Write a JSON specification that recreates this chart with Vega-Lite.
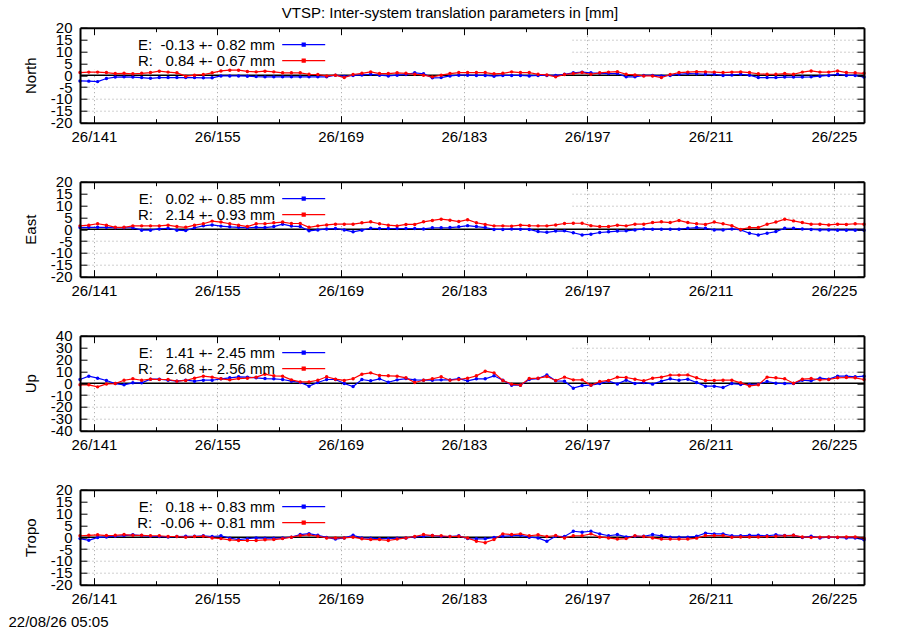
{
"$schema": "https://vega.github.io/schema/vega-lite/v6.json",
"background": "white",
"padding": {"left": 8, "top": 5.7, "right": 0, "bottom": 0},
"autosize": {"type": "pad"},
"title": {"text": "VTSP: Inter-system translation parameters in [mm]", "anchor": "middle", "frame": "group", "dx": -22, "offset": 0, "font": "Liberation Sans", "fontSize": 15, "fontWeight": "normal", "color": "black"},
"config": {
  "view": {"stroke": null},
  "axis": {"domainColor": "black", "domainWidth": 2, "tickColor": "black", "tickWidth": 1, "labelFont": "Liberation Sans", "labelFontSize": 15, "labelColor": "black", "labelFlush": false, "labelOverlap": false, "titleFont": "Liberation Sans", "titleFontSize": 15, "titleFontWeight": "normal", "titleColor": "black"},
  "legend": {"labelFont": "Liberation Sans", "labelFontSize": 15, "labelColor": "black"}
},
"datasets": {"d": [
{"d":139.42,"nE":-2.4,"nR":1.1,"eE":0.7,"eR":1.4,"uE":3.1,"uR":-1.4,"tE":-0.6,"tR":0.6},
{"d":140.42,"nE":-2.5,"nR":1.3,"eE":0.8,"eR":1.7,"uE":5.9,"uR":-1.4,"tE":-1.3,"tR":0.8},
{"d":141.42,"nE":-2.7,"nR":1.3,"eE":0.8,"eR":2.3,"uE":4.2,"uR":-3.1,"tE":-0.1,"tR":1.0},
{"d":142.42,"nE":-1.4,"nR":1.1,"eE":0.8,"eR":1.7,"uE":2.3,"uR":-0.6,"tE":0.1,"tR":0.7},
{"d":143.42,"nE":-0.8,"nR":0.7,"eE":0.6,"eR":0.8,"uE":-0.3,"uR":-0.3,"tE":0.4,"tR":0.8},
{"d":144.42,"nE":-0.7,"nR":0.8,"eE":0.6,"eR":0.8,"uE":-1.4,"uR":2.5,"tE":0.7,"tR":1.1},
{"d":145.42,"nE":-0.8,"nR":0.6,"eE":0.6,"eR":1.4,"uE":0.3,"uR":3.7,"tE":1.0,"tR":0.8},
{"d":146.42,"nE":-1.0,"nR":0.8,"eE":-0.4,"eR":1.4,"uE":0.3,"uR":2.5,"tE":0.7,"tR":0.8},
{"d":147.42,"nE":-1.3,"nR":1.1,"eE":-0.4,"eR":1.4,"uE":3.4,"uR":3.4,"tE":0.4,"tR":0.6},
{"d":148.42,"nE":-1.0,"nR":1.7,"eE":0.1,"eR":1.4,"uE":3.4,"uR":3.1,"tE":0.3,"tR":0.6},
{"d":149.42,"nE":-1.0,"nR":1.3,"eE":0.4,"eR":1.7,"uE":2.5,"uR":3.1,"tE":0.1,"tR":0.3},
{"d":150.42,"nE":-1.0,"nR":1.0,"eE":-0.4,"eR":1.1,"uE":1.7,"uR":1.7,"tE":0.3,"tR":0.3},
{"d":151.42,"nE":-1.0,"nR":-0.4,"eE":-0.6,"eR":0.8,"uE":2.5,"uR":2.3,"tE":0.4,"tR":0},
{"d":152.42,"nE":-1.0,"nR":0,"eE":0.6,"eR":1.7,"uE":1.7,"uR":4.2,"tE":0.4,"tR":0.3},
{"d":153.42,"nE":-1.1,"nR":0.3,"eE":1.4,"eR":2.3,"uE":2.5,"uR":5.9,"tE":0.6,"tR":0.4},
{"d":154.42,"nE":-1.1,"nR":1.0,"eE":1.8,"eR":3.4,"uE":2.5,"uR":5.1,"tE":0.3,"tR":-0.3},
{"d":155.42,"nE":-0.3,"nR":1.8,"eE":1.3,"eR":3.0,"uE":3.7,"uR":3.7,"tE":0.6,"tR":-0.6},
{"d":156.42,"nE":-0.3,"nR":2.1,"eE":1.0,"eR":2.3,"uE":4.5,"uR":2.8,"tE":-0.4,"tR":-1.1},
{"d":157.42,"nE":-0.3,"nR":2.1,"eE":0.8,"eR":1.7,"uE":5.4,"uR":3.9,"tE":-1.0,"tR":-1.4},
{"d":158.42,"nE":-0.4,"nR":1.6,"eE":0.6,"eR":1.1,"uE":5.1,"uR":4.2,"tE":-0.6,"tR":-1.4},
{"d":159.42,"nE":-0.6,"nR":1.4,"eE":0.8,"eR":2.3,"uE":4.5,"uR":5.1,"tE":-0.3,"tR":-1.4},
{"d":160.42,"nE":-0.7,"nR":1.7,"eE":0.7,"eR":2.3,"uE":3.9,"uR":7.6,"tE":-0.4,"tR":-1.1},
{"d":161.42,"nE":-0.7,"nR":1.4,"eE":1.1,"eR":2.7,"uE":3.7,"uR":6.2,"tE":-0.4,"tR":-1.0},
{"d":162.42,"nE":-0.7,"nR":1.0,"eE":2.1,"eR":3.0,"uE":3.1,"uR":5.9,"tE":-0.3,"tR":-0.6},
{"d":163.42,"nE":-0.7,"nR":1.0,"eE":1.3,"eR":2.4,"uE":1.7,"uR":2.8,"tE":0,"tR":0},
{"d":164.42,"nE":-0.7,"nR":1.0,"eE":1.1,"eR":2.4,"uE":0.6,"uR":1.1,"tE":1.1,"tR":0.7},
{"d":165.42,"nE":-0.7,"nR":0.4,"eE":-0.7,"eR":0.8,"uE":-2.5,"uR":1.1,"tE":1.5,"tR":1.0},
{"d":166.42,"nE":-0.7,"nR":0.3,"eE":-0.3,"eR":1.4,"uE":0.6,"uR":2.5,"tE":0.8,"tR":0.4},
{"d":167.42,"nE":-0.7,"nR":-0.3,"eE":0.1,"eR":1.8,"uE":3.1,"uR":5.4,"tE":-0.1,"tR":-0.3},
{"d":168.42,"nE":0,"nR":0,"eE":0.3,"eR":2.1,"uE":3.1,"uR":3.4,"tE":-0.8,"tR":-0.3},
{"d":169.42,"nE":-0.5,"nR":-1.0,"eE":-0.3,"eR":2.1,"uE":-0.3,"uR":2.3,"tE":-0.3,"tR":-0.3},
{"d":170.42,"nE":-0.1,"nR":0.3,"eE":-1.1,"eR":2.1,"uE":-2.8,"uR":3.7,"tE":0.8,"tR":0},
{"d":171.42,"nE":0.1,"nR":0.8,"eE":-0.4,"eR":2.7,"uE":3.1,"uR":7.6,"tE":-0.3,"tR":-0.7},
{"d":172.42,"nE":0.4,"nR":1.4,"eE":0.4,"eR":3.1,"uE":2.0,"uR":8.7,"tE":-0.4,"tR":-1.0},
{"d":173.42,"nE":0,"nR":0.7,"eE":0.3,"eR":2.3,"uE":3.7,"uR":6.5,"tE":-0.6,"tR":-1.0},
{"d":174.42,"nE":-0.3,"nR":0.7,"eE":0.3,"eR":1.7,"uE":0.8,"uR":6.2,"tE":-0.6,"tR":-1.4},
{"d":175.42,"nE":0,"nR":1.0,"eE":0.3,"eR":1.4,"uE":2.8,"uR":5.9,"tE":-0.4,"tR":-0.8},
{"d":176.42,"nE":0.3,"nR":0.8,"eE":0.3,"eR":2.0,"uE":3.9,"uR":4.5,"tE":-0.3,"tR":-0.3},
{"d":177.42,"nE":1.0,"nR":0.4,"eE":0.3,"eR":2.0,"uE":2.8,"uR":0.6,"tE":0.1,"tR":0.3},
{"d":178.42,"nE":0.6,"nR":0,"eE":0.1,"eR":3.1,"uE":2.5,"uR":2.5,"tE":0.4,"tR":1.1},
{"d":179.42,"nE":-1.1,"nR":-0.7,"eE":0.6,"eR":3.7,"uE":2.5,"uR":3.7,"tE":0.7,"tR":0.7},
{"d":180.42,"nE":-1.0,"nR":0,"eE":0.6,"eR":4.2,"uE":2.8,"uR":5.4,"tE":0.3,"tR":0.6},
{"d":181.42,"nE":-0.3,"nR":0.7,"eE":0.7,"eR":3.8,"uE":2.8,"uR":2.5,"tE":0.3,"tR":0.3},
{"d":182.42,"nE":0,"nR":1.1,"eE":1.0,"eR":3.2,"uE":3.9,"uR":3.1,"tE":0.6,"tR":0.4},
{"d":183.42,"nE":0,"nR":1.1,"eE":1.5,"eR":4.0,"uE":2.0,"uR":4.2,"tE":-0.6,"tR":-0.3},
{"d":184.42,"nE":-0.1,"nR":1.1,"eE":1.1,"eR":2.7,"uE":3.7,"uR":6.2,"tE":-0.7,"tR":-1.7},
{"d":185.42,"nE":-0.1,"nR":1.1,"eE":0.7,"eR":2.0,"uE":3.7,"uR":10.1,"tE":-0.7,"tR":-2.3},
{"d":186.42,"nE":-0.4,"nR":0.6,"eE":-0.1,"eR":1.4,"uE":6.2,"uR":8.7,"tE":-0.1,"tR":-1.0},
{"d":187.42,"nE":-0.1,"nR":0.8,"eE":-0.1,"eR":1.4,"uE":2.5,"uR":2.3,"tE":0.4,"tR":1.4},
{"d":188.42,"nE":-0.1,"nR":1.4,"eE":0.1,"eR":1.3,"uE":-1.7,"uR":-0.8,"tE":0.6,"tR":1.1},
{"d":189.42,"nE":-0.1,"nR":1.1,"eE":0,"eR":1.7,"uE":-1.7,"uR":-1.7,"tE":0.8,"tR":1.4},
{"d":190.42,"nE":-0.3,"nR":1.1,"eE":-0.1,"eR":1.5,"uE":3.1,"uR":3.9,"tE":0,"tR":0.6},
{"d":191.42,"nE":-0.1,"nR":0.4,"eE":-1.0,"eR":1.4,"uE":3.9,"uR":4.2,"tE":-0.3,"tR":1.0},
{"d":192.42,"nE":-0.1,"nR":0.1,"eE":-1.3,"eR":1.4,"uE":7.0,"uR":5.6,"tE":-1.7,"tR":0.3},
{"d":193.42,"nE":-0.1,"nR":-0.7,"eE":-0.8,"eR":1.8,"uE":2.0,"uR":2.3,"tE":0.4,"tR":0.7},
{"d":194.42,"nE":0.4,"nR":0.3,"eE":-0.7,"eR":2.4,"uE":1.7,"uR":5.1,"tE":0.3,"tR":-0.3},
{"d":195.42,"nE":1.0,"nR":0.7,"eE":-1.5,"eR":2.5,"uE":-4.2,"uR":2.8,"tE":2.5,"tR":0.6},
{"d":196.42,"nE":1.3,"nR":1.1,"eE":-2.4,"eR":2.5,"uE":-2.0,"uR":2.8,"tE":2.1,"tR":0.6},
{"d":197.42,"nE":1.0,"nR":0.4,"eE":-2.1,"eR":1.5,"uE":-1.7,"uR":-1.7,"tE":2.5,"tR":1.4},
{"d":198.42,"nE":0.8,"nR":1.0,"eE":-1.4,"eR":1.1,"uE":-0.3,"uR":1.4,"tE":1.4,"tR":0.1},
{"d":199.42,"nE":0.7,"nR":1.3,"eE":-1.1,"eR":1.1,"uE":1.7,"uR":2.3,"tE":0.6,"tR":-0.3},
{"d":200.42,"nE":0.7,"nR":1.5,"eE":-0.8,"eR":1.7,"uE":-0.6,"uR":5.1,"tE":1.1,"tR":-0.8},
{"d":201.42,"nE":-0.7,"nR":0.4,"eE":-0.7,"eR":1.4,"uE":2.5,"uR":4.8,"tE":0.1,"tR":-0.6},
{"d":202.42,"nE":-0.7,"nR":0.1,"eE":-0.3,"eR":2.1,"uE":-0.3,"uR":3.4,"tE":0.4,"tR":0.6},
{"d":203.42,"nE":-0.1,"nR":-0.3,"eE":0.1,"eR":2.1,"uE":0.6,"uR":2.0,"tE":0.4,"tR":0.3},
{"d":204.42,"nE":-0.1,"nR":-0.3,"eE":0,"eR":2.8,"uE":-0.8,"uR":4.2,"tE":1.1,"tR":-0.3},
{"d":205.42,"nE":-0.3,"nR":-1.0,"eE":0,"eR":3.1,"uE":1.7,"uR":5.1,"tE":0.6,"tR":-0.8},
{"d":206.42,"nE":-0.1,"nR":0.3,"eE":0,"eR":2.8,"uE":3.7,"uR":6.8,"tE":0,"tR":-0.8},
{"d":207.42,"nE":0.4,"nR":1.1,"eE":0,"eR":3.7,"uE":2.5,"uR":6.8,"tE":0,"tR":-0.8},
{"d":208.42,"nE":0.7,"nR":1.3,"eE":0.4,"eR":2.8,"uE":3.4,"uR":7.0,"tE":0,"tR":-0.8},
{"d":209.42,"nE":0.6,"nR":1.5,"eE":0.7,"eR":2.3,"uE":0.6,"uR":4.5,"tE":0.4,"tR":-0.4},
{"d":210.42,"nE":0.4,"nR":1.4,"eE":0.4,"eR":2.0,"uE":-2.5,"uR":2.3,"tE":1.7,"tR":0.7},
{"d":211.42,"nE":0.4,"nR":1.3,"eE":-0.3,"eR":3.0,"uE":-2.5,"uR":2.3,"tE":1.4,"tR":0.7},
{"d":212.42,"nE":-0.1,"nR":1.1,"eE":-0.3,"eR":2.3,"uE":-3.7,"uR":2.5,"tE":1.4,"tR":0.7},
{"d":213.42,"nE":0.1,"nR":1.3,"eE":0.1,"eR":1.5,"uE":-0.3,"uR":2.5,"tE":0.6,"tR":0},
{"d":214.42,"nE":0.4,"nR":1.4,"eE":-0.3,"eR":-0.1,"uE":-1.1,"uR":0.3,"tE":0.6,"tR":0.1},
{"d":215.42,"nE":0,"nR":1.1,"eE":-1.7,"eR":0.7,"uE":-1.1,"uR":-2.3,"tE":0.8,"tR":0.1},
{"d":216.42,"nE":-1.0,"nR":0.6,"eE":-2.4,"eR":0.7,"uE":-0.8,"uR":-1.4,"tE":0.8,"tR":0.1},
{"d":217.42,"nE":-1.0,"nR":0.4,"eE":-1.7,"eR":2.1,"uE":1.4,"uR":5.1,"tE":0.6,"tR":0.3},
{"d":218.42,"nE":-1.0,"nR":0.4,"eE":-1.0,"eR":3.0,"uE":0,"uR":4.5,"tE":1.0,"tR":0.4},
{"d":219.42,"nE":-0.8,"nR":0.7,"eE":0.4,"eR":4.2,"uE":-0.3,"uR":3.7,"tE":0.7,"tR":0.6},
{"d":220.42,"nE":-0.8,"nR":0.4,"eE":0.4,"eR":3.5,"uE":-0.3,"uR":0,"tE":0.8,"tR":0.8},
{"d":221.42,"nE":-0.8,"nR":1.3,"eE":0.1,"eR":2.8,"uE":2.5,"uR":3.4,"tE":-0.1,"tR":0.1},
{"d":222.42,"nE":-0.7,"nR":1.8,"eE":-0.1,"eR":2.1,"uE":2.0,"uR":3.9,"tE":0.4,"tR":-0.1},
{"d":223.42,"nE":-0.4,"nR":1.3,"eE":-0.3,"eR":2.1,"uE":4.2,"uR":2.8,"tE":-0.3,"tR":0},
{"d":224.42,"nE":-0.1,"nR":1.3,"eE":-0.3,"eR":1.8,"uE":3.4,"uR":3.1,"tE":0,"tR":0.1},
{"d":225.42,"nE":0.4,"nR":1.8,"eE":-0.4,"eR":2.1,"uE":5.9,"uR":4.5,"tE":-0.1,"tR":0},
{"d":226.42,"nE":-0.1,"nR":1.1,"eE":-0.4,"eR":2.0,"uE":5.9,"uR":4.8,"tE":-0.3,"tR":0.1},
{"d":227.42,"nE":-0.1,"nR":1.0,"eE":-0.4,"eR":2.3,"uE":5.4,"uR":4.5,"tE":-0.3,"tR":0.1},
{"d":228.42,"nE":-0.8,"nR":0.8,"eE":-0.4,"eR":2.1,"uE":5.9,"uR":3.1,"tE":-1.1,"tR":-0.4}
]},
"vconcat": [
{
 "width": 784, "height": 95,
 "layer": [
  {"data": {"values": [{"x1": 139.42, "x2": 195.3, "y1": 2.5, "y2": 20}]},
   "mark": {"type": "rect", "color": "white", "strokeWidth": 0},
   "encoding": {
    "x": {"field": "x1", "type": "quantitative", "scale": {"domain": [139.42, 228.42], "nice": false, "zero": false}, "axis": {"orient": "bottom", "values": [141,155,169,183,197,211,225], "grid": true, "gridColor": "#a0a0a0", "gridDash": [1,3], "gridWidth": 1, "domain": false, "ticks": false, "labels": false, "title": null, "zindex": 0}},
    "x2": {"field": "x2"},
    "y": {"field": "y1", "type": "quantitative", "scale": {"domain": [-20, 20], "nice": false, "zero": false}, "axis": {"orient": "left", "values": [-15,-10,-5,5,10,15], "grid": true, "gridColor": "#a0a0a0", "gridDash": [1,3], "gridWidth": 1, "domain": false, "ticks": false, "labels": false, "title": null, "zindex": 0}},
    "y2": {"field": "y2"}
   }},
  {"data": {"values": [{"z": 0}]},
   "mark": {"type": "rule", "color": "black", "strokeWidth": 1.5},
   "encoding": {"y": {"field": "z", "type": "quantitative", "scale": {"domain": [-20, 20], "nice": false, "zero": false}, "axis": null}}},
  {"data": {"name": "d"},
   "transform": [{"fold": ["nE", "nR"], "as": ["key", "v"]}],
   "mark": {"type": "line", "strokeWidth": 1.2},
   "encoding": {
    "x": {"field": "d", "type": "quantitative", "scale": {"domain": [139.42, 228.42], "nice": false, "zero": false}, "axis": {"orient": "bottom", "values": [141,148,155,162,169,176,183,190,197,204,211,218,225], "grid": false, "tickSize": {"condition": {"test": "(datum.value - 141) % 14 == 0", "value": -7}, "value": -4}, "labelExpr": "(datum.value - 141) % 14 == 0 ? '26/' + datum.value : ''", "labelPadding": 13.5, "title": null, "zindex": 1}},
    "y": {"field": "v", "type": "quantitative", "scale": {"domain": [-20, 20], "nice": false, "zero": false}, "axis": {"orient": "left", "values": [-20,-15,-10,-5,0,5,10,15,20], "grid": false, "tickSize": -7, "labelPadding": 15, "labelExpr": "'' + datum.value", "title": "North", "titlePadding": 12, "zindex": 1}},
    "color": {"field": "key", "type": "nominal", "scale": {"domain": ["nE", "nR"], "range": ["#0000ff", "#ff0000"]},
     "legend": {"orient": "none", "legendX": 216.2, "legendY": 9.4, "title": null, "padding": 0, "rowPadding": -1.4, "symbolType": "M-4.3,0H4.3M-0.3,-0.3H0.3V0.3H-0.3Z", "symbolSize": 100, "symbolStrokeWidth": 1.2, "labelAlign": "right", "labelOffset": -36.2, "labelLimit": 400, "labelExpr": "datum.value == 'nE' ? 'E:\u00a0\u00a0-0.13 +- 0.82 mm' : 'R:\u00a0\u00a0\u00a00.84 +- 0.67 mm'"}}
   }},
  {"data": {"name": "d"},
   "transform": [{"fold": ["nE", "nR"], "as": ["key", "v"]}],
   "mark": {"type": "circle", "size": 12, "opacity": 1},
   "encoding": {
    "x": {"field": "d", "type": "quantitative", "scale": {"domain": [139.42, 228.42], "nice": false, "zero": false}, "axis": {"orient": "top", "values": [141,148,155,162,169,176,183,190,197,204,211,218,225], "grid": false, "tickSize": {"condition": {"test": "(datum.value - 141) % 14 == 0", "value": -7}, "value": -4}, "labels": false, "title": null, "zindex": 1}},
    "y": {"field": "v", "type": "quantitative", "scale": {"domain": [-20, 20], "nice": false, "zero": false}, "axis": {"orient": "right", "values": [-20,-15,-10,-5,0,5,10,15,20], "grid": false, "tickSize": -7, "labels": false, "title": null, "zindex": 1}},
    "color": {"field": "key", "type": "nominal", "legend": null}
   }}
 ],
 "resolve": {"axis": {"x": "independent", "y": "independent"}}
},
{
 "width": 784, "height": 95,
 "layer": [
  {"data": {"values": [{"x1": 139.42, "x2": 195.3, "y1": 2.5, "y2": 20}]},
   "mark": {"type": "rect", "color": "white", "strokeWidth": 0},
   "encoding": {
    "x": {"field": "x1", "type": "quantitative", "scale": {"domain": [139.42, 228.42], "nice": false, "zero": false}, "axis": {"orient": "bottom", "values": [141,155,169,183,197,211,225], "grid": true, "gridColor": "#a0a0a0", "gridDash": [1,3], "gridWidth": 1, "domain": false, "ticks": false, "labels": false, "title": null, "zindex": 0}},
    "x2": {"field": "x2"},
    "y": {"field": "y1", "type": "quantitative", "scale": {"domain": [-20, 20], "nice": false, "zero": false}, "axis": {"orient": "left", "values": [-15,-10,-5,5,10,15], "grid": true, "gridColor": "#a0a0a0", "gridDash": [1,3], "gridWidth": 1, "domain": false, "ticks": false, "labels": false, "title": null, "zindex": 0}},
    "y2": {"field": "y2"}
   }},
  {"data": {"values": [{"z": 0}]},
   "mark": {"type": "rule", "color": "black", "strokeWidth": 1.5},
   "encoding": {"y": {"field": "z", "type": "quantitative", "scale": {"domain": [-20, 20], "nice": false, "zero": false}, "axis": null}}},
  {"data": {"name": "d"},
   "transform": [{"fold": ["eE", "eR"], "as": ["key", "v"]}],
   "mark": {"type": "line", "strokeWidth": 1.2},
   "encoding": {
    "x": {"field": "d", "type": "quantitative", "scale": {"domain": [139.42, 228.42], "nice": false, "zero": false}, "axis": {"orient": "bottom", "values": [141,148,155,162,169,176,183,190,197,204,211,218,225], "grid": false, "tickSize": {"condition": {"test": "(datum.value - 141) % 14 == 0", "value": -7}, "value": -4}, "labelExpr": "(datum.value - 141) % 14 == 0 ? '26/' + datum.value : ''", "labelPadding": 13.5, "title": null, "zindex": 1}},
    "y": {"field": "v", "type": "quantitative", "scale": {"domain": [-20, 20], "nice": false, "zero": false}, "axis": {"orient": "left", "values": [-20,-15,-10,-5,0,5,10,15,20], "grid": false, "tickSize": -7, "labelPadding": 15, "labelExpr": "'' + datum.value", "title": "East", "titlePadding": 12, "zindex": 1}},
    "color": {"field": "key", "type": "nominal", "scale": {"domain": ["eE", "eR"], "range": ["#0000ff", "#ff0000"]},
     "legend": {"orient": "none", "legendX": 216.2, "legendY": 9.4, "title": null, "padding": 0, "rowPadding": -1.4, "symbolType": "M-4.3,0H4.3M-0.3,-0.3H0.3V0.3H-0.3Z", "symbolSize": 100, "symbolStrokeWidth": 1.2, "labelAlign": "right", "labelOffset": -36.2, "labelLimit": 400, "labelExpr": "datum.value == 'eE' ? 'E:\u00a0\u00a0\u00a00.02 +- 0.85 mm' : 'R:\u00a0\u00a0\u00a02.14 +- 0.93 mm'"}}
   }},
  {"data": {"name": "d"},
   "transform": [{"fold": ["eE", "eR"], "as": ["key", "v"]}],
   "mark": {"type": "circle", "size": 12, "opacity": 1},
   "encoding": {
    "x": {"field": "d", "type": "quantitative", "scale": {"domain": [139.42, 228.42], "nice": false, "zero": false}, "axis": {"orient": "top", "values": [141,148,155,162,169,176,183,190,197,204,211,218,225], "grid": false, "tickSize": {"condition": {"test": "(datum.value - 141) % 14 == 0", "value": -7}, "value": -4}, "labels": false, "title": null, "zindex": 1}},
    "y": {"field": "v", "type": "quantitative", "scale": {"domain": [-20, 20], "nice": false, "zero": false}, "axis": {"orient": "right", "values": [-20,-15,-10,-5,0,5,10,15,20], "grid": false, "tickSize": -7, "labels": false, "title": null, "zindex": 1}},
    "color": {"field": "key", "type": "nominal", "legend": null}
   }}
 ],
 "resolve": {"axis": {"x": "independent", "y": "independent"}}
},
{
 "width": 784, "height": 95,
 "layer": [
  {"data": {"values": [{"x1": 139.42, "x2": 195.3, "y1": 5, "y2": 40}]},
   "mark": {"type": "rect", "color": "white", "strokeWidth": 0},
   "encoding": {
    "x": {"field": "x1", "type": "quantitative", "scale": {"domain": [139.42, 228.42], "nice": false, "zero": false}, "axis": {"orient": "bottom", "values": [141,155,169,183,197,211,225], "grid": true, "gridColor": "#a0a0a0", "gridDash": [1,3], "gridWidth": 1, "domain": false, "ticks": false, "labels": false, "title": null, "zindex": 0}},
    "x2": {"field": "x2"},
    "y": {"field": "y1", "type": "quantitative", "scale": {"domain": [-40, 40], "nice": false, "zero": false}, "axis": {"orient": "left", "values": [-30,-20,-10,10,20,30], "grid": true, "gridColor": "#a0a0a0", "gridDash": [1,3], "gridWidth": 1, "domain": false, "ticks": false, "labels": false, "title": null, "zindex": 0}},
    "y2": {"field": "y2"}
   }},
  {"data": {"values": [{"z": 0}]},
   "mark": {"type": "rule", "color": "black", "strokeWidth": 1.5},
   "encoding": {"y": {"field": "z", "type": "quantitative", "scale": {"domain": [-40, 40], "nice": false, "zero": false}, "axis": null}}},
  {"data": {"name": "d"},
   "transform": [{"fold": ["uE", "uR"], "as": ["key", "v"]}],
   "mark": {"type": "line", "strokeWidth": 1.2},
   "encoding": {
    "x": {"field": "d", "type": "quantitative", "scale": {"domain": [139.42, 228.42], "nice": false, "zero": false}, "axis": {"orient": "bottom", "values": [141,148,155,162,169,176,183,190,197,204,211,218,225], "grid": false, "tickSize": {"condition": {"test": "(datum.value - 141) % 14 == 0", "value": -7}, "value": -4}, "labelExpr": "(datum.value - 141) % 14 == 0 ? '26/' + datum.value : ''", "labelPadding": 13.5, "title": null, "zindex": 1}},
    "y": {"field": "v", "type": "quantitative", "scale": {"domain": [-40, 40], "nice": false, "zero": false}, "axis": {"orient": "left", "values": [-40,-30,-20,-10,0,10,20,30,40], "grid": false, "tickSize": -7, "labelPadding": 15, "labelExpr": "'' + datum.value", "title": "Up", "titlePadding": 12, "zindex": 1}},
    "color": {"field": "key", "type": "nominal", "scale": {"domain": ["uE", "uR"], "range": ["#0000ff", "#ff0000"]},
     "legend": {"orient": "none", "legendX": 216.2, "legendY": 9.4, "title": null, "padding": 0, "rowPadding": -1.4, "symbolType": "M-4.3,0H4.3M-0.3,-0.3H0.3V0.3H-0.3Z", "symbolSize": 100, "symbolStrokeWidth": 1.2, "labelAlign": "right", "labelOffset": -36.2, "labelLimit": 400, "labelExpr": "datum.value == 'uE' ? 'E:\u00a0\u00a0\u00a01.41 +- 2.45 mm' : 'R:\u00a0\u00a0\u00a02.68 +- 2.56 mm'"}}
   }},
  {"data": {"name": "d"},
   "transform": [{"fold": ["uE", "uR"], "as": ["key", "v"]}],
   "mark": {"type": "circle", "size": 12, "opacity": 1},
   "encoding": {
    "x": {"field": "d", "type": "quantitative", "scale": {"domain": [139.42, 228.42], "nice": false, "zero": false}, "axis": {"orient": "top", "values": [141,148,155,162,169,176,183,190,197,204,211,218,225], "grid": false, "tickSize": {"condition": {"test": "(datum.value - 141) % 14 == 0", "value": -7}, "value": -4}, "labels": false, "title": null, "zindex": 1}},
    "y": {"field": "v", "type": "quantitative", "scale": {"domain": [-40, 40], "nice": false, "zero": false}, "axis": {"orient": "right", "values": [-40,-30,-20,-10,0,10,20,30,40], "grid": false, "tickSize": -7, "labels": false, "title": null, "zindex": 1}},
    "color": {"field": "key", "type": "nominal", "legend": null}
   }}
 ],
 "resolve": {"axis": {"x": "independent", "y": "independent"}}
},
{
 "width": 784, "height": 95,
 "layer": [
  {"data": {"values": [{"x1": 139.42, "x2": 195.3, "y1": 2.5, "y2": 20}]},
   "mark": {"type": "rect", "color": "white", "strokeWidth": 0},
   "encoding": {
    "x": {"field": "x1", "type": "quantitative", "scale": {"domain": [139.42, 228.42], "nice": false, "zero": false}, "axis": {"orient": "bottom", "values": [141,155,169,183,197,211,225], "grid": true, "gridColor": "#a0a0a0", "gridDash": [1,3], "gridWidth": 1, "domain": false, "ticks": false, "labels": false, "title": null, "zindex": 0}},
    "x2": {"field": "x2"},
    "y": {"field": "y1", "type": "quantitative", "scale": {"domain": [-20, 20], "nice": false, "zero": false}, "axis": {"orient": "left", "values": [-15,-10,-5,5,10,15], "grid": true, "gridColor": "#a0a0a0", "gridDash": [1,3], "gridWidth": 1, "domain": false, "ticks": false, "labels": false, "title": null, "zindex": 0}},
    "y2": {"field": "y2"}
   }},
  {"data": {"values": [{"z": 0}]},
   "mark": {"type": "rule", "color": "black", "strokeWidth": 1.5},
   "encoding": {"y": {"field": "z", "type": "quantitative", "scale": {"domain": [-20, 20], "nice": false, "zero": false}, "axis": null}}},
  {"data": {"name": "d"},
   "transform": [{"fold": ["tE", "tR"], "as": ["key", "v"]}],
   "mark": {"type": "line", "strokeWidth": 1.2},
   "encoding": {
    "x": {"field": "d", "type": "quantitative", "scale": {"domain": [139.42, 228.42], "nice": false, "zero": false}, "axis": {"orient": "bottom", "values": [141,148,155,162,169,176,183,190,197,204,211,218,225], "grid": false, "tickSize": {"condition": {"test": "(datum.value - 141) % 14 == 0", "value": -7}, "value": -4}, "labelExpr": "(datum.value - 141) % 14 == 0 ? '26/' + datum.value : ''", "labelPadding": 13.5, "title": "22/08/26 05:05", "titleX": -72, "titleY": 37, "titleAlign": "left", "titleBaseline": "middle", "titleAngle": 0, "titleFontSize": 15, "zindex": 1}},
    "y": {"field": "v", "type": "quantitative", "scale": {"domain": [-20, 20], "nice": false, "zero": false}, "axis": {"orient": "left", "values": [-20,-15,-10,-5,0,5,10,15,20], "grid": false, "tickSize": -7, "labelPadding": 15, "labelExpr": "'' + datum.value", "title": "Tropo", "titlePadding": 12, "zindex": 1}},
    "color": {"field": "key", "type": "nominal", "scale": {"domain": ["tE", "tR"], "range": ["#0000ff", "#ff0000"]},
     "legend": {"orient": "none", "legendX": 216.2, "legendY": 9.4, "title": null, "padding": 0, "rowPadding": -1.4, "symbolType": "M-4.3,0H4.3M-0.3,-0.3H0.3V0.3H-0.3Z", "symbolSize": 100, "symbolStrokeWidth": 1.2, "labelAlign": "right", "labelOffset": -36.2, "labelLimit": 400, "labelExpr": "datum.value == 'tE' ? 'E:\u00a0\u00a0\u00a00.18 +- 0.83 mm' : 'R:\u00a0\u00a0-0.06 +- 0.81 mm'"}}
   }},
  {"data": {"name": "d"},
   "transform": [{"fold": ["tE", "tR"], "as": ["key", "v"]}],
   "mark": {"type": "circle", "size": 12, "opacity": 1},
   "encoding": {
    "x": {"field": "d", "type": "quantitative", "scale": {"domain": [139.42, 228.42], "nice": false, "zero": false}, "axis": {"orient": "top", "values": [141,148,155,162,169,176,183,190,197,204,211,218,225], "grid": false, "tickSize": {"condition": {"test": "(datum.value - 141) % 14 == 0", "value": -7}, "value": -4}, "labels": false, "title": null, "zindex": 1}},
    "y": {"field": "v", "type": "quantitative", "scale": {"domain": [-20, 20], "nice": false, "zero": false}, "axis": {"orient": "right", "values": [-20,-15,-10,-5,0,5,10,15,20], "grid": false, "tickSize": -7, "labels": false, "title": null, "zindex": 1}},
    "color": {"field": "key", "type": "nominal", "legend": null}
   }}
 ],
 "resolve": {"axis": {"x": "independent", "y": "independent"}}
}
],
"resolve": {"scale": {"color": "independent"}, "legend": {"color": "independent"}},
"spacing": 59,
"bounds": "flush"
}
